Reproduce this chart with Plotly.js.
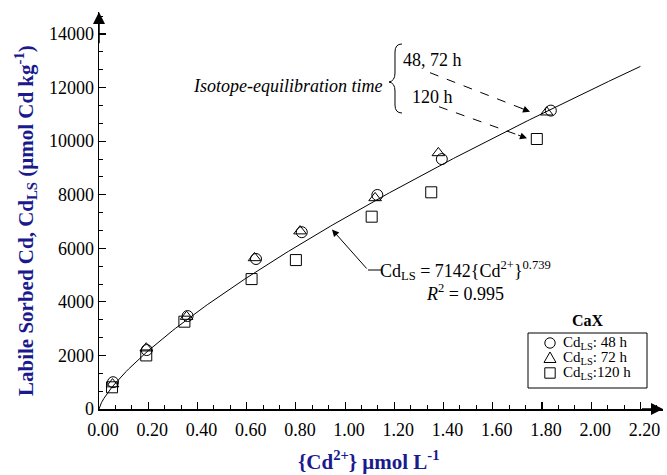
<!DOCTYPE html>
<html>
<head>
<meta charset="utf-8">
<script src="https://cdn.plot.ly/plotly-3.0.1.min.js"></script>
<style>html,body{margin:0;padding:0;background:#fff;}#chart{width:667px;height:475px;}</style>
</head>
<body>
<div id="chart"></div>
<script>
// ---- data ----
const x48  = [0.057, 0.194, 0.360, 0.638, 0.824, 1.131, 1.393, 1.836];
const y48  = [1000, 2200, 3470, 5600, 6600, 7990, 9330, 11140];
const x72  = [0.055, 0.192, 0.356, 0.632, 0.817, 1.122, 1.379, 1.819];
const y72  = [930, 2270, 3450, 5640, 6640, 7880, 9560, 11080];
const x120 = [0.053, 0.192, 0.347, 0.620, 0.800, 1.108, 1.350, 1.779];
const y120 = [810, 2000, 3260, 4850, 5560, 7180, 8090, 10080];
const seriesNames = ["Cd<sub>LS</sub>: 48 h", "Cd<sub>LS</sub>: 72 h", "Cd<sub>LS</sub>:120 h"];
const legendTitle = "CaX";
const fitA = 7142, fitB = 0.739, fitXmax = 2.2;
const xTickVals = [0,0.2,0.4,0.6,0.8,1.0,1.2,1.4,1.6,1.8,2.0,2.2];
const yTickVals = [0,2000,4000,6000,8000,10000,12000,14000];

// fit curve from the stated equation
const fitX = [], fitY = [];
for (let i = 0; i <= 220; i++) { const x = fitXmax * i / 220; fitX.push(x); fitY.push(fitA * Math.pow(x, fitB)); }

// ---- layout geometry ----
const L = 99, T = 12, W = 564, H = 397, FIG_W = 667, FIG_H = 475;
const xPerPx = 1 / 246.1, yPerPx = 1 / 0.026786;
const xMax = W * xPerPx, yMax = H * yPerPx;
const px = x => (x - L) / W;
const py = y => (T + H - y) / H;

const FONT = "Liberation Serif";
const NAVY = "#1a1a8e";

const mk = (sym) => ({symbol: sym, size: 11, color: "#000", line: {color: "#000", width: 1}});

const traces = [
  {x: fitX, y: fitY, mode: "lines", line: {color: "#000", width: 1}, showlegend: false, hoverinfo: "skip"},
  {x: x48, y: y48, mode: "markers", name: seriesNames[0], marker: mk("circle-open"), showlegend: false},
  {x: x72, y: y72, mode: "markers", name: seriesNames[1], marker: mk("triangle-up-open"), showlegend: false},
  {x: x120, y: y120, mode: "markers", name: seriesNames[2], marker: mk("square-open"), showlegend: false}
];

function pathShape(cmds) {
  let d = "";
  cmds.forEach(p => {
    d += p[0];
    for (let i = 1; i < p.length; i += 2) d += " " + px(p[i]).toFixed(5) + "," + py(p[i+1]).toFixed(5);
    d += " ";
  });
  return {type: "path", xref: "paper", yref: "paper", path: d, line: {color: "#000", width: 1}};
}
function pline(x0, y0, x1, y1, dash) {
  return {type: "line", xref: "paper", yref: "paper", x0: px(x0), y0: py(y0), x1: px(x1), y1: py(y1),
          line: {color: "#000", width: 1, dash: dash || "solid"}};
}
function headAnn(xe, ye, xs, ys) {
  const dx = xe - xs, dy = ye - ys, n = Math.hypot(dx, dy);
  return {xref: "paper", yref: "paper", x: px(xe), y: py(ye), ax: -dx / n * 11, ay: -dy / n * 11,
          text: "", showarrow: true, arrowhead: 2, arrowsize: 1.4, arrowwidth: 1, arrowcolor: "#000", standoff: 0};
}
function txt(x, y, text, opts) {
  return Object.assign({xref: "paper", yref: "paper", x: px(x), y: py(y), text: text, showarrow: false,
    font: {family: FONT, size: 18, color: "#000"}, xanchor: "center", yanchor: "middle"}, opts || {});
}

// legend geometry (pixels)
const LG = {left: 528, right: 647, top: 333, bottom: 388, mx: 550, tx: 561, rows: [343, 358, 373]};
const ms = 5.2;
const shapes = [
  pathShape([["M", 402, 44], ["Q", 395, 44, 395, 52], ["L", 395, 73], ["Q", 395, 81, 389, 82],
             ["Q", 395, 83, 395, 91], ["L", 395, 105], ["Q", 395, 113, 402, 113]]),
  pline(430, 72.7, 522, 108.5, "dash"),
  pline(439, 106.7, 518, 135, "dash"),
  pline(368, 270, 381, 270),
  // legend box and symbols
  {type: "rect", xref: "paper", yref: "paper", x0: px(LG.left), x1: px(LG.right), y0: py(LG.top), y1: py(LG.bottom),
   line: {color: "#000", width: 1}, fillcolor: "#fff"},
  {type: "circle", xref: "paper", yref: "paper", x0: px(LG.mx - ms), x1: px(LG.mx + ms),
   y0: py(LG.rows[0] - ms), y1: py(LG.rows[0] + ms), line: {color: "#000", width: 1}},
  pathShape([["M", LG.mx - 6, LG.rows[1] + 4.5], ["L", LG.mx + 6, LG.rows[1] + 4.5], ["L", LG.mx, LG.rows[1] - 6], ["Z"]]),
  {type: "rect", xref: "paper", yref: "paper", x0: px(LG.mx - ms), x1: px(LG.mx + ms),
   y0: py(LG.rows[2] - ms), y1: py(LG.rows[2] + ms), line: {color: "#000", width: 1}}
];

const annotations = [
  // axis arrows
  {xref: "x", yref: "y", x: 0, y: yMax, axref: "x", ayref: "y", ax: 0, ay: 13600, text: "", showarrow: true,
   arrowhead: 2, arrowsize: 1.6, arrowwidth: 1.5, arrowcolor: "#000", standoff: 0},
  {xref: "x", yref: "y", x: xMax, y: 0, axref: "x", ayref: "y", ax: 2.2, ay: 0, text: "", showarrow: true,
   arrowhead: 2, arrowsize: 1.6, arrowwidth: 1.5, arrowcolor: "#000", standoff: 0},
  // axis titles
  txt(25, 221, "<b>Labile Sorbed Cd, Cd<sub>LS</sub> (μmol Cd kg<sup>-1</sup>)</b>",
      {textangle: -90, font: {family: FONT, size: 21, color: NAVY}}),
  txt(369, 460, "<b>{Cd<sup>2+</sup>} μmol L<sup>-1</sup></b>", {font: {family: FONT, size: 21, color: NAVY}}),
  // isotope annotation
  txt(384, 86, "<i>Isotope-equilibration time</i>", {xanchor: "right"}),
  txt(401, 60, "48, 72 h", {xanchor: "left"}),
  txt(410, 97, "120 h", {xanchor: "left"}),
  headAnn(530, 111.7, 430, 72.7),
  headAnn(527, 138.3, 439, 106.7),
  // fit equation
  {xref: "paper", yref: "paper", x: px(332), y: py(229.5), ax: 36, ay: 40.5, text: "", showarrow: true,
   arrowhead: 2, arrowsize: 1.4, arrowwidth: 1, arrowcolor: "#000", standoff: 0},
  txt(465, 281, "Cd<sub>LS</sub> = 7142{Cd<sup>2+</sup>}<sup>0.739</sup><br><i>R</i><sup>2</sup> = 0.995"),
  // legend title and entries
  txt(588, 320, "<b>" + legendTitle + "</b>", {font: {family: FONT, size: 16, color: "#000"}}),
  txt(LG.tx, LG.rows[0], seriesNames[0], {xanchor: "left", font: {family: FONT, size: 15, color: "#000"}}),
  txt(LG.tx, LG.rows[1], seriesNames[1], {xanchor: "left", font: {family: FONT, size: 15, color: "#000"}}),
  txt(LG.tx, LG.rows[2], seriesNames[2], {xanchor: "left", font: {family: FONT, size: 15, color: "#000"}})
];

const axisCommon = {
  showgrid: false, zeroline: false, showline: true, linecolor: "#000", linewidth: 1.5,
  ticks: "inside", ticklen: 7, tickwidth: 1.2, tickcolor: "#000",
  tickfont: {family: FONT, size: 18, color: "#000"}, fixedrange: true
};

const layout = {
  width: FIG_W, height: FIG_H,
  margin: {l: L, r: FIG_W - L - W, t: T, b: FIG_H - T - H, pad: 0},
  paper_bgcolor: "#fff", plot_bgcolor: "#fff",
  xaxis: Object.assign({}, axisCommon, {range: [0, xMax], tickvals: xTickVals, tickformat: ".2f",
    ticklabelshift: 4, ticklabelstandoff: 4,
    minor: {dtick: 0.2 / 3, tick0: 0, ticks: "inside", ticklen: 4, tickcolor: "#000", tickwidth: 1}}),
  yaxis: Object.assign({}, axisCommon, {range: [0, yMax], tickvals: yTickVals, tickformat: "d",
    minor: {dtick: 2000 / 3, tick0: 0, ticks: "inside", ticklen: 4, tickcolor: "#000", tickwidth: 1}}),
  showlegend: false,
  shapes: shapes,
  annotations: annotations,
  font: {family: FONT}
};

Plotly.newPlot("chart", traces, layout, {staticPlot: true, displayModeBar: false});
</script>
</body>
</html>
